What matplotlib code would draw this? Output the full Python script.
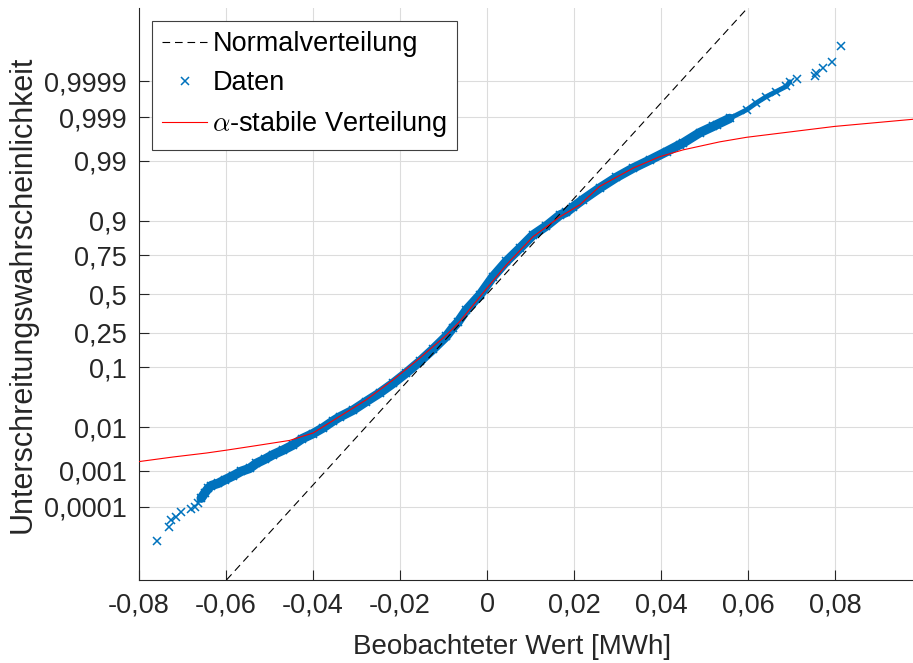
from statistics import NormalDist

import numpy as np
import matplotlib
matplotlib.use("Agg")
import matplotlib.pyplot as plt

# Beobachtete Werte [MWh] und zugehoerige Standardnormal-Quantile der Plotpositionen
daten_x = [-0.0758, -0.0731, -0.0726, -0.0714, -0.0703, -0.0680, -0.0672, -0.0664,
           -0.0657, -0.0649, -0.0641, -0.0634, -0.0618, -0.0603, -0.0584, -0.0565,
           -0.0546, -0.0530, -0.0511, -0.0492, -0.0469, -0.0446, -0.0425, -0.0400,
           -0.0377, -0.0354, -0.0339, -0.0308, -0.0278, -0.0247, -0.0216, -0.0186,
           -0.0155, -0.0125, -0.0094, -0.0079, -0.0067, -0.0048, -0.0017, 0.0013,
           0.0044, 0.0075, 0.0105, 0.0136, 0.0167, 0.0182, 0.0197, 0.0220,
           0.0258, 0.0297, 0.0335, 0.0373, 0.0412, 0.0442, 0.0450, 0.0488,
           0.0519, 0.0527, 0.0557, 0.0596, 0.0618, 0.0641, 0.0664, 0.0687,
           0.0695, 0.0712, 0.0752, 0.0756, 0.0771, 0.0791, 0.0812]
daten_z = [-4.32, -4.08, -3.95, -3.89, -3.82, -3.76, -3.73, -3.66,
           -3.57, -3.48, -3.40, -3.35, -3.31, -3.25, -3.18, -3.10,
           -3.05, -2.96, -2.89, -2.81, -2.73, -2.64, -2.53, -2.44,
           -2.34, -2.22, -2.15, -2.03, -1.88, -1.73, -1.56, -1.38,
           -1.18, -0.97, -0.74, -0.59, -0.49, -0.28, -0.02, 0.30,
           0.57, 0.80, 1.03, 1.19, 1.38, 1.43, 1.52, 1.65,
           1.85, 2.04, 2.20, 2.34, 2.49, 2.61, 2.64, 2.82,
           2.93, 2.96, 3.07, 3.22, 3.34, 3.45, 3.54, 3.63,
           3.71, 3.76, 3.82, 3.87, 3.95, 4.06, 4.33]

# angepasste alpha-stabile Verteilung
stabil_x = [-0.0800, -0.0722, -0.0645, -0.0599, -0.0530, -0.0454, -0.0400, -0.0339,
            -0.0278, -0.0216, -0.0155, -0.0094, -0.0063, -0.0017, 0.0044, 0.0105,
            0.0167, 0.0213, 0.0258, 0.0335, 0.0396, 0.0450, 0.0534, 0.0596,
            0.0798, 0.1000]
stabil_z = [-2.93, -2.85, -2.78, -2.73, -2.65, -2.56, -2.43, -2.14,
            -1.85, -1.50, -1.12, -0.72, -0.48, -0.05, 0.51, 1.00,
            1.35, 1.56, 1.88, 2.20, 2.40, 2.52, 2.66, 2.74,
            2.93, 3.07]

# Referenzgerade der Normalverteilung
normal_x = [-0.0599, 0.0598]
normal_z = [-5.0, 5.0]

x_ticks = [-0.08, -0.06, -0.04, -0.02, 0, 0.02, 0.04, 0.06, 0.08]
p_ticks = [0.0001, 0.001, 0.01, 0.1, 0.25, 0.5, 0.75, 0.9, 0.99, 0.999, 0.9999]

plt.rcParams['font.family'] = ['Liberation Sans', 'DejaVu Sans']
plt.rcParams['mathtext.fontset'] = 'cm'
plt.rcParams['lines.scale_dashes'] = False

text_col = '#262626'
blau = '#0072BD'

fig = plt.figure(figsize=(9.13, 6.63), dpi=100)
ax = fig.add_axes([0.1522, 0.1252, 0.8582, 0.8627])

dx = np.array(daten_x)
dz = np.array(daten_z)
dicht = (dz > -3.6) & (dz < 3.1)
locker = (dz >= 3.0) & (dz < 3.72)

ax.plot(normal_x, normal_z, color='k', lw=0.8, dashes=(5.5, 3.5),
        label='Normalverteilung', zorder=3)
# dicht besetzter Bereich: Marker ueberlappen zu einem Band
ax.plot(dx[dicht], dz[dicht], color=blau, lw=6.8, solid_capstyle='round',
        solid_joinstyle='round', zorder=2)
ax.plot(dx[locker], dz[locker], color=blau, lw=3.5, solid_capstyle='round', zorder=2)
ax.plot(dx, dz, ls='none', marker='x', ms=6, mew=1.1, color=blau,
        label='Daten', zorder=2)
ax.plot(stabil_x, stabil_z, color='r', lw=0.8, label=r'$\alpha$-stabile Verteilung',
        zorder=4)

ax.set_xlim(-0.08, 0.1)
ax.set_ylim(-5, 5)

ax.set_xticks(x_ticks)
ax.set_xticklabels([('%g' % v).replace('.', ',') for v in x_ticks])
nd = NormalDist()
ax.set_yticks([nd.inv_cdf(p) for p in p_ticks])
ax.set_yticklabels([('%g' % p).replace('.', ',') for p in p_ticks])

ax.tick_params(direction='in', length=7, width=0.8, labelsize=19.5,
               colors=text_col, pad=9)
ax.grid(True, color='#dcdcdc', lw=0.8)
ax.set_axisbelow(True)
for side in ['top', 'right']:
    ax.spines[side].set_visible(False)
for side in ['left', 'bottom']:
    ax.spines[side].set_color(text_col)
    ax.spines[side].set_linewidth(0.8)

ax.set_xlabel('Beobachteter Wert [MWh]', fontsize=20, color=text_col)
ax.xaxis.set_label_coords(0.476, -0.095)
ax.set_ylabel('Unterschreitungswahrscheinlichkeit', fontsize=22, color=text_col,
              labelpad=4)

leg = ax.legend(loc='upper left', bbox_to_anchor=(0.0166, 0.9773), borderaxespad=0,
                fontsize=19.5, handlelength=1.65, handletextpad=0.2, labelspacing=0.48,
                borderpad=0.38, fancybox=False, framealpha=1, edgecolor='#404040')
leg.get_frame().set_linewidth(0.8)

fig.savefig('out.png', dpi=100)
